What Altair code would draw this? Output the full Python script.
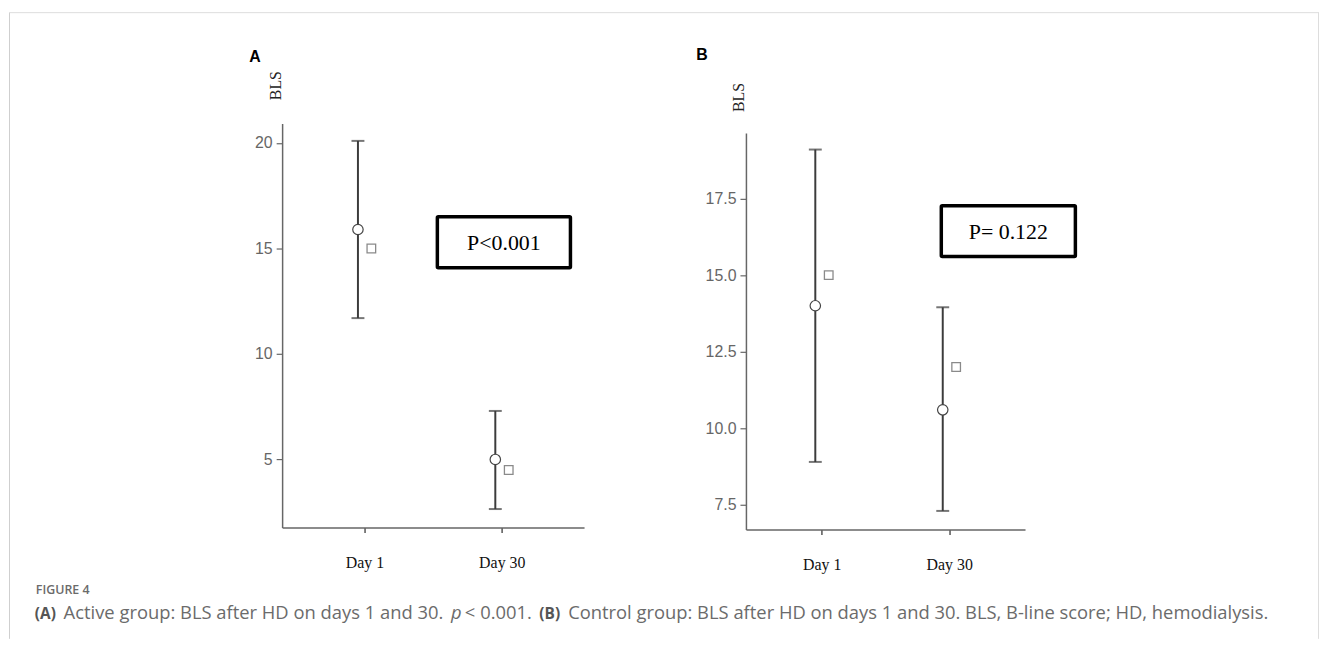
import altair as alt
import pandas as pd

# ---- data ----
days = ["Day 1", "Day 30"]
a_mean = [15.9, 5.0]
a_low = [11.7, 2.65]
a_high = [20.1, 7.3]
a_median = [15.0, 4.5]
b_mean = [14.0, 10.6]
b_low = [8.9, 7.3]
b_high = [19.1, 13.95]
b_median = [15.0, 12.0]
a_ticks = [5, 10, 15, 20]
b_ticks = [7.5, 10.0, 12.5, 15.0, 17.5]
a_domain = [1.77, 20.93]
b_domain = [6.69, 19.64]
a_ptext = "P<0.001"
b_ptext = "P= 0.122"

caption_seg = [
    ("(A)", "bold", "normal"),
    ("Active group: BLS after HD on days 1 and 30.", "normal", "normal"),
    ("p", "normal", "italic"),
    ("< 0.001.", "normal", "normal"),
    ("(B)", "bold", "normal"),
    ("Control group: BLS after HD on days 1 and 30. BLS, B-line score; HD, hemodialysis.", "normal", "normal"),
]
caption_x = [-249, -220, 170, 184, 259, 288]

ONE = alt.Data(values=[{"k": 1}])
BAR = "#3c3c3c"


def panel(mean, low, high, median, domain, ticks, fmt, pad, yrange, letter, lpos, blspos, box, ptext):
    df = pd.DataFrame({"day": days, "mean": mean, "low": low, "high": high, "median": median})
    xaxis = alt.Axis(title=None, labelFont="Liberation Serif", labelFontSize=16, labelColor="#111",
                     labelAngle=0, labelPadding=22, tickSize=5, tickColor="#555", tickWidth=1.5,
                     domainColor="#666", domainWidth=1.5, grid=False)
    yaxis = alt.Axis(title=None, values=ticks, format=fmt, labelFont="Liberation Sans", labelFontSize=16,
                     labelColor="#666", tickSize=6, tickColor="#666", tickWidth=1.2, labelPadding=4,
                     domainColor="#666", domainWidth=1.5, grid=False)
    sc = dict(domain=domain, nice=False, zero=False)
    if yrange is not None:
        sc["range"] = yrange
    yscale = alt.Scale(**sc)
    x = alt.X("day:N", sort=days, scale=alt.Scale(type="point", padding=pad), axis=xaxis)

    base = alt.Chart(df)
    rule = base.mark_rule(color=BAR, strokeWidth=2).encode(
        x=x, xOffset=alt.value(-6.5),
        y=alt.Y("low:Q", scale=yscale, axis=yaxis), y2="high:Q")
    cap_hi = base.mark_tick(color=BAR, orient="horizontal", size=13, thickness=2).encode(
        x=x, xOffset=alt.value(-6.5), y=alt.Y("high:Q", scale=yscale, axis=yaxis))
    cap_lo = base.mark_tick(color=BAR, orient="horizontal", size=13, thickness=2).encode(
        x=x, xOffset=alt.value(-6.5), y=alt.Y("low:Q", scale=yscale, axis=yaxis))
    pts = base.mark_point(shape="circle", filled=False, fill="white", fillOpacity=1, stroke="#444",
                          strokeWidth=1.2, size=110, opacity=1).encode(
        x=x, xOffset=alt.value(-6.5), y=alt.Y("mean:Q", scale=yscale, axis=yaxis))
    med = base.mark_point(shape="square", filled=False, fill="white", fillOpacity=1, stroke="#8a8a8a",
                          strokeWidth=1.3, size=75, opacity=1).encode(
        x=x, xOffset=alt.value(7), y=alt.Y("median:Q", scale=yscale, axis=yaxis))

    ann = alt.Chart(ONE)
    let = ann.mark_text(text=letter, font="Liberation Sans", fontWeight="bold", fontSize=16,
                        align="left", baseline="alphabetic", color="#000").encode(
        x=alt.value(lpos[0]), y=alt.value(lpos[1]))
    bls = ann.mark_text(text="BLS", font="Liberation Serif", fontSize=16, angle=270,
                        align="center", baseline="middle", color="#222").encode(
        x=alt.value(blspos[0]), y=alt.value(blspos[1]))
    rect = ann.mark_rect(fill="white", fillOpacity=0, stroke="#000", strokeWidth=3.5,
                         cornerRadius=1).encode(
        x=alt.value(box[0]), x2=alt.value(box[1]), y=alt.value(box[2]), y2=alt.value(box[3]))
    ptxt = ann.mark_text(text=ptext, font="Liberation Serif", fontSize=22, align="center",
                         baseline="middle", color="#000").encode(
        x=alt.value((box[0] + box[1]) / 2), y=alt.value((box[2] + box[3]) / 2 + 1))

    return [rule, cap_hi, cap_lo, pts, med, let, bls, rect, ptxt]


a_layers = panel(a_mean, a_low, a_high, a_median, a_domain, a_ticks, "d", 0.599, None,
                 "A", (-33, -62), (-6.3, -38), (156.3, 290.3, 94, 145.3), a_ptext)
b_layers = panel(b_mean, b_low, b_high, b_median, b_domain, b_ticks, ".1f", 0.595, [409, 9.7],
                 "B", (-50, -63.5), (-7, -26), (196.7, 331.7, 83, 134), b_ptext)

# frame and caption, placed with panel A
ann = alt.Chart(ONE)
frame = [
    ann.mark_rule(color="#cfcfcf", strokeWidth=1).encode(
        x=alt.value(-274.5), y=alt.value(-111.5), y2=alt.value(519)),
    ann.mark_rule(color="#dddddd", strokeWidth=1).encode(
        x=alt.value(-275), x2=alt.value(1044), y=alt.value(-111.5)),
    ann.mark_rule(color="#dddddd", strokeWidth=1).encode(
        x=alt.value(1043.5), y=alt.value(-111.5), y2=alt.value(519)),
]
cap = [ann.mark_text(text="FIGURE 4", font="Open Sans", fontSize=12.5, fontWeight=600, color="#6b6b6b",
                     align="left", baseline="alphabetic").encode(x=alt.value(-248), y=alt.value(474))]
for (t, wgt, sty), cx in zip(caption_seg, caption_x):
    cap.append(ann.mark_text(text=t, font="Open Sans", fontSize=15.5 if wgt == "bold" else 18.5,
                             fontWeight=wgt, fontStyle=sty,
                             color="#555" if wgt == "bold" else "#6b6b6b",
                             align="left", baseline="alphabetic").encode(
        x=alt.value(cx), y=alt.value(499)))

A = alt.layer(*a_layers, *frame, *cap).properties(width=304, height=407)
B = alt.layer(*b_layers).properties(width=281, height=409)

chart = alt.hconcat(A, B, spacing=163, bounds="flush").properties(
    padding={"left": 0, "top": 2, "right": 0, "bottom": 0},
    background="white",
).configure_view(stroke=None)

chart.save("out.html", embed_options={"renderer": "svg", "actions": False})
